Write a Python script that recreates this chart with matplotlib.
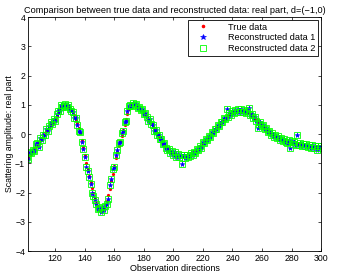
import numpy as np
import matplotlib
matplotlib.use("Agg")
import matplotlib.pyplot as plt

plt.rcParams["font.family"] = ["Liberation Sans", "DejaVu Sans"]

# observation directions 101..300
directions = np.arange(101, 301)

# true data
true_data = [
    -0.85, -0.78, -0.70, -0.62, -0.55, -0.48, -0.42, -0.35, -0.28, -0.20,
    -0.13, -0.06, 0.01, 0.09, 0.17, 0.24, 0.31, 0.38, 0.45, 0.52,
    0.62, 0.74, 0.84, 0.92, 0.97, 0.99, 1.00, 0.99, 0.96, 0.90,
    0.83, 0.74, 0.64, 0.52, 0.38, 0.22, 0.03, -0.20, -0.45, -0.72,
    -0.98, -1.20, -1.42, -1.63, -1.83, -2.02, -2.20, -2.35, -2.47, -2.56,
    -2.60, -2.58, -2.52, -2.42, -2.28, -2.10, -1.88, -1.62, -1.35, -1.08,
    -0.82, -0.60, -0.42, -0.24, -0.05, 0.14, 0.32, 0.50, 0.68, 0.84,
    0.95, 1.01, 1.03, 1.02, 0.99, 0.95, 0.91, 0.86, 0.80, 0.74,
    0.67, 0.60, 0.53, 0.45, 0.37, 0.29, 0.20, 0.11, 0.03, -0.05,
    -0.13, -0.21, -0.29, -0.36, -0.43, -0.49, -0.55, -0.59, -0.63, -0.66,
    -0.69, -0.71, -0.73, -0.74, -0.75, -0.76, -0.76, -0.76, -0.75, -0.74,
    -0.72, -0.70, -0.67, -0.63, -0.59, -0.55, -0.50, -0.45, -0.40, -0.34,
    -0.28, -0.22, -0.16, -0.10, -0.04, 0.02, 0.08, 0.14, 0.20, 0.26,
    0.32, 0.38, 0.44, 0.50, 0.55, 0.60, 0.64, 0.68, 0.71, 0.74,
    0.76, 0.78, 0.79, 0.80, 0.80, 0.80, 0.79, 0.78, 0.76, 0.74,
    0.71, 0.68, 0.64, 0.60, 0.55, 0.50, 0.45, 0.40, 0.35, 0.30,
    0.25, 0.20, 0.15, 0.11, 0.07, 0.03, -0.01, -0.04, -0.07, -0.10,
    -0.12, -0.15, -0.17, -0.19, -0.21, -0.23, -0.25, -0.26, -0.28, -0.29,
    -0.30, -0.31, -0.32, -0.33, -0.34, -0.35, -0.36, -0.37, -0.38, -0.39,
    -0.40, -0.41, -0.42, -0.42, -0.43, -0.43, -0.44, -0.44, -0.44, -0.44,
]

# reconstructed data 1 (blue stars)
recon_1 = [
    -0.80, -0.84, -0.61, -0.65, -0.53, -0.58, -0.35, -0.31, -0.45, -0.12,
    -0.21, -0.02, -0.03, 0.17, 0.10, 0.27, 0.41, 0.34, 0.51, 0.43,
    0.70, 0.80, 0.79, 0.98, 0.92, 0.95, 1.02, 0.93, 0.99, 0.84,
    0.78, 0.77, 0.55, 0.55, 0.30, 0.12, 0.08, -0.28, -0.50, -0.80,
    -1.12, -1.27, -1.48, -1.70, -2.03, -2.12, -2.25, -2.38, -2.55, -2.52,
    -2.66, -2.50, -2.60, -2.45, -2.38, -2.22, -1.75, -1.55, -1.18, -1.14,
    -0.70, -0.55, -0.30, -0.28, 0.04, 0.12, 0.40, 0.45, 0.80, 0.95,
    0.99, 0.96, 1.05, 0.98, 1.02, 0.90, 0.94, 0.82, 0.84, 0.68,
    0.72, 0.57, 0.45, 0.50, 0.33, 0.31, 0.12, 0.15, -0.03, -0.02,
    -0.18, -0.17, -0.34, -0.30, -0.47, -0.55, -0.50, -0.66, -0.58, -0.72,
    -0.63, -0.78, -0.68, -0.80, -0.70, -1.02, -0.73, -0.82, -0.70, -0.79,
    -0.76, -0.64, -0.71, -0.60, -0.66, -0.50, -0.55, -0.40, -0.46, -0.28,
    -0.32, -0.17, -0.20, -0.05, -0.09, 0.07, 0.03, 0.19, 0.16, 0.31,
    0.28, 0.42, 0.40, 0.55, 0.50, 0.85, 0.60, 0.72, 0.66, 0.78,
    0.72, 0.82, 0.76, 0.86, 0.77, 0.84, 0.74, 0.81, 0.72, 0.78,
    0.88, 0.65, 0.70, 0.55, 0.58, 0.46, 0.20, 0.35, 0.40, 0.26,
    0.30, 0.16, 0.20, 0.06, 0.10, -0.02, 0.02, -0.09, -0.03, -0.14,
    -0.08, -0.20, -0.13, -0.24, -0.17, -0.27, -0.30, -0.22, -0.48, -0.25,
    -0.34, -0.27, -0.36, -0.02, -0.38, -0.30, -0.40, -0.33, -0.42, -0.35,
    -0.44, -0.37, -0.46, -0.38, -0.47, -0.40, -0.55, -0.41, -0.48, -0.42,
]

# reconstructed data 2 (green squares) sits on top of data 1
recon_2 = list(recon_1)

fig = plt.figure(figsize=(3.46, 2.75), dpi=100)
ax = fig.add_axes([0.081, 0.087, 0.847, 0.851])

ax.plot(directions, true_data, linestyle="none", marker=".", color="red",
        markersize=2.6, label="True data")
ax.plot(directions, recon_1, linestyle="none", marker="*", color="blue",
        markersize=3.5, markeredgewidth=0.4, label="Reconstructed data 1")
ax.plot(directions, recon_2, linestyle="none", marker="s", color="#00ff00",
        markerfacecolor="none", markersize=3.9, markeredgewidth=0.6,
        label="Reconstructed data 2")

ax.set_xlim(101.7, 300)
ax.set_ylim(-4, 4)
ax.set_xticks(np.arange(120, 301, 20))
ax.set_yticks(np.arange(-4, 5, 1))
ax.tick_params(direction="in", top=True, right=True, labelsize=6.3,
               length=2.5, width=0.5, pad=2)
for sp in ax.spines.values():
    sp.set_linewidth(0.6)

ax.set_xlabel("Observation directions", fontsize=6.5, labelpad=1)
ax.set_ylabel("Scattering amplitude: real part", fontsize=6.3, labelpad=1)
ax.set_title("Comparison between true data and reconstructed data: real part, d=(\u22121,0)",
             fontsize=6.6, pad=3)

leg = ax.legend(loc="upper right", fontsize=6.6, fancybox=False, framealpha=1,
                edgecolor="black", borderaxespad=0.3, handletextpad=1.5,
                labelspacing=0.2, borderpad=0.3, handlelength=2.6,
                markerscale=1.2)
leg.get_frame().set_linewidth(0.6)

fig.savefig("out.png", dpi=100)
